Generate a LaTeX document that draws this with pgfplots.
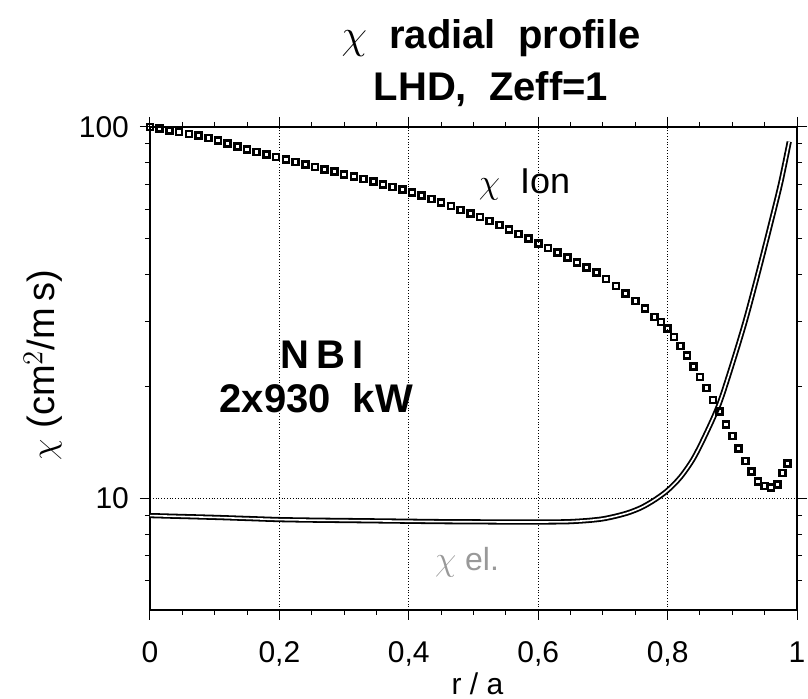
\documentclass[border=0pt]{standalone}
\usepackage{fontspec}
\setmainfont{Liberation Sans}
\usepackage{pgfplots}
\pgfplotsset{compat=1.18}
\begin{document}
\begin{tikzpicture}
\useasboundingbox (-75pt,-44.5pt) rectangle (329pt,305pt);
\begin{axis}[
 at={(0,0)}, anchor=south west,
 scale only axis, width=323.5pt, height=241.5pt,
 ymode=log, xmin=0, xmax=1, ymin=5, ymax=100,
 xtick={0,0.2,0.4,0.6,0.8,1}, xticklabels={0,{0,2},{0,4},{0,6},{0,8},1},
 minor x tick num=3,
 ytick={10,100}, yticklabels={10,100},
 minor ytick={6,7,8,9,20,30,40,50,60,70,80,90},
 tick align=outside,
 major tick length=5pt, minor tick length=2.5pt,
 xmajorgrids, ymajorgrids,
 major grid style={densely dotted, black, line width=0.5pt},
 axis line style={line width=1pt},
 tick style={black, line width=0.5pt},
 ticklabel style={font=\fontsize{15}{18}\selectfont},
 xticklabel style={anchor=base, yshift=-21.5pt},
 yticklabel style={xshift=-2pt},
 clip=false,
]
\addplot[only marks, mark=square, mark size=1.5pt, mark options={line width=1.3pt, black}] coordinates {
(0.000,100) (0.015,99.0) (0.030,97.9) (0.045,96.9) (0.060,95.7) (0.075,94.7)
(0.090,93.4) (0.105,91.8) (0.120,90.2) (0.135,88.5) (0.150,87.0) (0.165,85.7)
(0.180,84.3) (0.195,83.0) (0.210,81.7) (0.225,80.5) (0.240,79.3) (0.255,78.0)
(0.270,76.9) (0.285,75.9) (0.300,74.6) (0.315,73.5) (0.330,72.4) (0.345,71.3)
(0.360,70.1) (0.375,69.0) (0.390,67.8) (0.405,66.5) (0.420,65.3) (0.435,64.0)
(0.450,62.6) (0.465,61.2) (0.480,59.8) (0.495,58.5) (0.510,57.2) (0.525,55.8)
(0.540,54.5) (0.555,53.0) (0.570,51.5) (0.585,50.0) (0.600,48.6) (0.615,47.2)
(0.630,45.9) (0.645,44.5) (0.660,43.2) (0.675,41.8) (0.690,40.5) (0.705,39.0)
(0.720,37.3) (0.735,35.6) (0.750,34.0) (0.765,32.4) (0.780,30.8) (0.790,29.8)
(0.800,28.7) (0.810,27.2) (0.820,25.7) (0.830,24.2) (0.840,22.6) (0.850,21.2)
(0.860,19.8) (0.870,18.4) (0.880,17.1) (0.890,15.8) (0.900,14.7) (0.910,13.6)
(0.920,12.6) (0.930,11.8) (0.940,11.1) (0.950,10.8) (0.960,10.7) (0.970,10.9)
(0.978,11.7) (0.985,12.4)
};
\addplot[smooth, no marks, black, line width=0.9pt, double=white, double distance=0.8pt] coordinates {
(0.00,8.98) (0.05,8.93) (0.10,8.88) (0.15,8.82) (0.20,8.76) (0.25,8.73)
(0.30,8.71) (0.35,8.69) (0.40,8.67) (0.45,8.65) (0.50,8.64) (0.55,8.63)
(0.60,8.63) (0.64,8.64) (0.66,8.67) (0.68,8.72) (0.70,8.80) (0.72,8.95)
(0.74,9.15) (0.76,9.45) (0.78,9.90) (0.80,10.5) (0.82,11.4) (0.84,12.8)
(0.86,15.0) (0.88,18.0) (0.90,23.0) (0.92,30.0) (0.94,40.5) (0.96,55.5)
(0.975,71.0) (0.988,91.3)
};
\node[anchor=base, font=\fontsize{20}{24}\selectfont\bfseries] at (rel axis cs:0.527,1.1615) {$\chi$\ \ radial\ \ profile};
\node[anchor=base, font=\fontsize{20}{24}\selectfont\bfseries] at (rel axis cs:0.527,1.055) {LHD,\ \ Zeff=1};
\node[anchor=base, font=\fontsize{20}{24}\selectfont\bfseries] at (rel axis cs:0.266,0.501) {N\,B\,I};
\node[anchor=base, font=\fontsize{20}{24}\selectfont\bfseries] at (rel axis cs:0.257,0.408) {2x930\ \ kW};
\node[anchor=base, font=\fontsize{18}{22}\selectfont] at (rel axis cs:0.579,0.863) {$\chi$\ \ Ion};
\node[anchor=base, font=\fontsize{16}{20}\selectfont, text=black!40] at (rel axis cs:0.49,0.081) {$\chi$ el.};
\node[anchor=base, font=\fontsize{15}{18}\selectfont] at (rel axis cs:0.506,-0.174) {r / a};
\node[anchor=base, rotate=90, font=\fontsize{19}{22}\selectfont] at (rel axis cs:-0.147,0.507) {$\chi$\ (cm$^2$/m\,s)};
\end{axis}
\end{tikzpicture}
\end{document}
